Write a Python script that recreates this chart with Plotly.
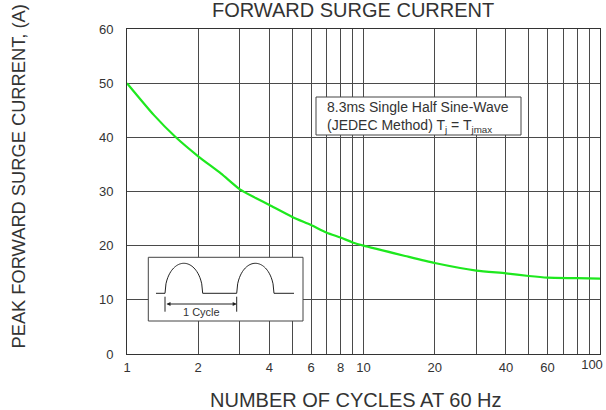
import numpy as np
import plotly.graph_objects as go

# ---- data ----
cycles = [1, 1.3, 1.6, 2, 2.5, 3, 3.5, 4, 5, 6, 7, 8, 9, 10, 15, 20, 30, 40, 50, 60, 80, 100]
current = [50, 44.1, 40.1, 36.5, 33.3, 30.4, 28.8, 27.5, 25.3, 23.8, 22.4, 21.5, 20.6, 20.0,
           18.1, 16.8, 15.4, 14.9, 14.4, 14.1, 14.0, 13.9]

x_grid = [1, 2, 3, 4, 5, 6, 7, 8, 9, 10, 20, 30, 40, 50, 60, 70, 80, 90, 100]
x_labels = ['1', '2', '', '4', '', '6', '', '8', '', '10', '20', '', '40', '', '60', '', '', '', '']
x_end_tick = [100]
x_end_label = ['100']
y_ticks = [0, 10, 20, 30, 40, 50, 60]

title = "FORWARD SURGE CURRENT"
x_title = "NUMBER OF CYCLES AT 60 Hz"
y_title = "PEAK FORWARD SURGE CURRENT, (A)"
note = "8.3ms Single Half Sine-Wave<br>(JEDEC Method) T<sub>j</sub> = T<sub>jmax</sub>"
inset_label = "1 Cycle"

# ---- layout geometry (pixel coordinates) ----
W, H = 606, 410
PL, PR, PT, PB = 127, 600, 29, 354   # plot area edges in pixels
PW, PH = PR - PL, PB - PT
FONT = "Arial, Liberation Sans, sans-serif"
TXT = "#333333"
GRID = "#4a4a4a"


def px(xp):
    return (xp - PL) / PW


def py(yp):
    return (PB - yp) / PH


fig = go.Figure()
fig.add_trace(go.Scatter(x=cycles, y=current, mode="lines",
                         line=dict(color="#1ee81e", width=2.2, shape="spline", smoothing=0.6),
                         hoverinfo="x+y", showlegend=False))
# carrier for the secondary x axis (holds the end tick label)
fig.add_trace(go.Scatter(x=x_end_tick, y=[None], xaxis="x2", mode="lines",
                         showlegend=False, hoverinfo="skip"))

shapes = []
# note box
shapes.append(dict(type="rect", xref="paper", yref="paper",
                   x0=px(316), x1=px(521), y0=py(135), y1=py(97),
                   line=dict(color="#444", width=1), fillcolor="white"))
# inset box
shapes.append(dict(type="rect", xref="paper", yref="paper",
                   x0=px(148.3), x1=px(303), y0=py(321), y1=py(257.3),
                   line=dict(color="#444", width=1), fillcolor="white"))

# waveform schematic (two half-sine humps)
base, peak = 293.3, 263.3
h1 = (165, 202.7)
h2 = (236.7, 274)


def arch(a, b, n=40):
    t = np.linspace(0, 1, n)
    xs = a + (b - a) * t
    ys = base - (base - peak) * np.sqrt(np.clip(1 - (2 * t - 1) ** 2, 0, 1))
    return xs, ys


xs1, ys1 = arch(*h1)
xs2, ys2 = arch(*h2)
wx = np.concatenate([[156], xs1, xs2, [294]])
wy = np.concatenate([[base], ys1, ys2, [base]])
path = "M " + " L ".join(f"{px(a):.5f},{py(b):.5f}" for a, b in zip(wx, wy))
shapes.append(dict(type="path", xref="paper", yref="paper", path=path,
                   line=dict(color="#222", width=1)))
# dimension ticks
for xv in (h1[0], h2[0]):
    shapes.append(dict(type="line", xref="paper", yref="paper",
                       x0=px(xv), x1=px(xv), y0=py(296.7), y1=py(311.7),
                       line=dict(color="#222", width=1)))

annotations = [
    dict(text=title, xref="paper", yref="paper", x=px(353), y=py(10),
         xanchor="center", yanchor="middle", showarrow=False,
         font=dict(family=FONT, size=20, color=TXT)),
    dict(text=x_title, xref="paper", yref="paper", x=px(356), y=py(400),
         xanchor="center", yanchor="middle", showarrow=False,
         font=dict(family=FONT, size=20, color=TXT)),
    dict(text=y_title, xref="paper", yref="paper", x=px(17.5), y=py(177),
         xanchor="center", yanchor="middle", showarrow=False, textangle=-90,
         font=dict(family=FONT, size=18.3, color=TXT)),
    dict(text=note, xref="paper", yref="paper", x=px(325), y=py(116.5),
         xanchor="left", yanchor="middle", showarrow=False, align="left",
         font=dict(family=FONT, size=14, color=TXT)),
    dict(text=inset_label, xref="paper", yref="paper", x=px(201), y=py(312),
         xanchor="center", yanchor="middle", showarrow=False,
         font=dict(family=FONT, size=11, color=TXT)),
    # double-headed dimension arrow
    dict(text="", xref="paper", yref="paper", x=px(h2[0]), y=py(304),
         ax=-(h2[0] - h1[0]), ay=0, axref="pixel", ayref="pixel",
         showarrow=True, arrowhead=2, arrowside="end+start", arrowsize=0.8,
         arrowwidth=1, arrowcolor="#222"),
]

fig.update_layout(
    width=W, height=H, autosize=False,
    margin=dict(l=PL, r=W - PR, t=PT, b=H - PB, autoexpand=False),
    paper_bgcolor="white", plot_bgcolor="white",
    shapes=shapes, annotations=annotations,
    font=dict(family=FONT, color=TXT),
    xaxis=dict(type="log", range=[0, 2], tickmode="array",
               tickvals=x_grid, ticktext=x_labels,
               showgrid=True, gridcolor=GRID, gridwidth=1,
               showline=True, linecolor="#333", linewidth=1, mirror=True,
               ticks="", ticklabelstandoff=1, zeroline=False, automargin=False,
               tickfont=dict(family=FONT, size=13, color=TXT)),
    xaxis2=dict(type="log", range=[0, 2], overlaying="x", anchor="y", side="bottom",
                tickmode="array", tickvals=x_end_tick, ticktext=x_end_label,
                showgrid=False, showline=False, zeroline=False, ticks="",
                ticklabelstandoff=1, ticklabelshift=-8, ticklabeloverflow="allow",
                automargin=False,
                tickfont=dict(family=FONT, size=13, color=TXT)),
    yaxis=dict(range=[0, 60], tickmode="array", tickvals=y_ticks,
               showgrid=True, gridcolor=GRID, gridwidth=1,
               showline=True, linecolor="#333", linewidth=1, mirror=True,
               ticks="", ticklabelstandoff=10, zeroline=False, automargin=False,
               tickfont=dict(family=FONT, size=13, color=TXT)),
)

fig.write_html("out.html", config={"displayModeBar": False},
               post_script="document.body.style.margin='0';document.body.style.overflow='hidden';")
